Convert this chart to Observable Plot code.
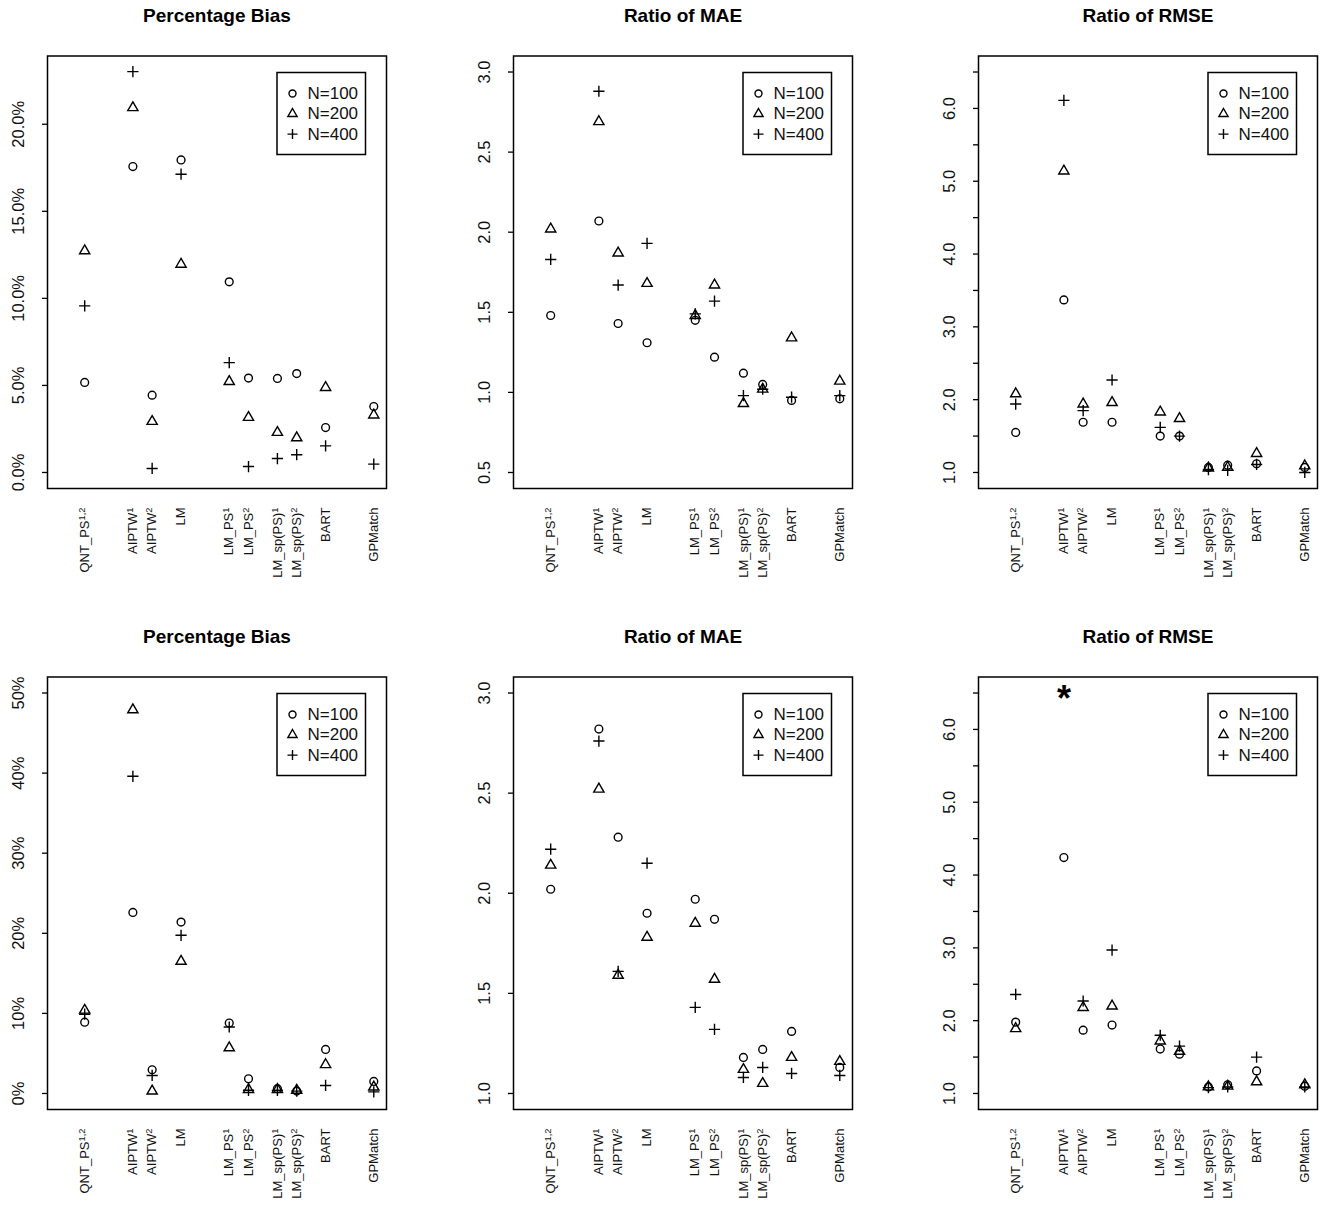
<!DOCTYPE html>
<html><head><meta charset="utf-8">
<script src="https://cdn.jsdelivr.net/npm/d3@7"></script>
<script src="https://cdn.jsdelivr.net/npm/@observablehq/plot@0.6"></script>
<style>
html,body{margin:0;padding:0;background:#fff;overflow:hidden;}
#root{position:relative;width:1325px;height:1210px;background:#fff;}
#root > div{position:absolute;}
</style></head><body><div id="root"></div>
<script>
// ---- categories ----
const methods   = ["QNT_PS","AIPTW","AIPTW","LM","LM_PS","LM_PS","LM_sp(PS)","LM_sp(PS)","BART","GPMatch"];
const methodSup = ["1,2","1","2","","1","2","1","2","",""];
const slots     = [1,3.5,4.5,6,8.5,9.5,11,12,13.5,16];   // grouping of methods along x

const seriesLabels  = ["N=100","N=200","N=400"];
const seriesSymbols = ["circle","triangle","plus"];

const titles = ["Percentage Bias","Ratio of MAE","Ratio of RMSE","Percentage Bias","Ratio of MAE","Ratio of RMSE"];

// ---- values (top row) ----
const bias1_n100 = [5.17,17.57,4.44,17.95,10.95,5.42,5.40,5.68,2.58,3.79];
const bias1_n200 = [12.73,20.95,2.93,11.96,5.22,3.16,2.30,1.99,4.88,3.30];
const bias1_n400 = [9.57,23.02,0.23,17.13,6.31,0.34,0.80,1.02,1.53,0.48];

const mae1_n100 = [1.48,2.07,1.43,1.31,1.45,1.22,1.12,1.05,0.95,0.96];
const mae1_n200 = [2.02,2.69,1.87,1.68,1.48,1.67,0.93,1.02,1.34,1.07];
const mae1_n400 = [1.83,2.88,1.67,1.93,1.49,1.57,0.98,1.02,0.97,0.98];

const rmse1_n100 = [1.55,3.37,1.69,1.69,1.50,1.50,1.07,1.10,1.12,1.07];
const rmse1_n200 = [2.08,5.14,1.94,1.96,1.83,1.74,1.06,1.07,1.26,1.09];
const rmse1_n400 = [1.94,6.11,1.85,2.27,1.62,1.50,1.04,1.03,1.11,1.00];

// ---- values (bottom row) ----
const bias2_n100 = [8.9,22.6,2.96,21.4,8.8,1.83,0.6,0.3,5.5,1.5];
const bias2_n200 = [10.4,47.9,0.3,16.5,5.7,0.5,0.5,0.4,3.6,0.8];
const bias2_n400 = [9.9,39.6,2.25,19.75,8.3,0.4,0.4,0.3,1.0,0.2];

const mae2_n100 = [2.02,2.82,2.28,1.90,1.97,1.87,1.18,1.22,1.31,1.13];
const mae2_n200 = [2.14,2.52,1.59,1.78,1.85,1.57,1.12,1.05,1.18,1.16];
const mae2_n400 = [2.22,2.76,1.61,2.15,1.43,1.32,1.08,1.13,1.10,1.09];

const rmse2_n100 = [1.98,4.24,1.87,1.94,1.61,1.54,1.09,1.12,1.31,1.10];
const rmse2_n200 = [1.89,null,2.18,2.20,1.72,1.58,1.09,1.10,1.16,1.12];
const rmse2_n400 = [2.36,null,2.27,2.97,1.80,1.65,1.08,1.09,1.50,1.09];
// off-scale marker (asterisk) in bottom-right panel
const rmse2_offscale = [{method: 1, value: 6.5}];

// ---- axis limits and ticks ----
const ylims = [[0,23],[0.5,3],[1,6.5],[0,50],[1,3],[1,6.5]];
const yTicks = [
  [0,5,10,15,20],
  [0.5,1,1.5,2,2.5,3],
  [1,1.5,2,2.5,3,3.5,4,4.5,5,5.5,6,6.5],
  [0,10,20,30,40,50],
  [1,1.5,2,2.5,3],
  [1,1.5,2,2.5,3,3.5,4,4.5,5,5.5,6,6.5]
];
const yTickLabels = [
  [0,5,10,15,20],
  [0.5,1,1.5,2,2.5,3],
  [1,2,3,4,5,6],
  [0,10,20,30,40,50],
  [1,1.5,2,2.5,3],
  [1,2,3,4,5,6]
];
const yFormats = [
  v => v.toFixed(1) + "%",
  v => v.toFixed(1),
  v => v.toFixed(1),
  v => v + "%",
  v => v.toFixed(1),
  v => v.toFixed(1)
];

const panelValues = [
  [bias1_n100,bias1_n200,bias1_n400],
  [mae1_n100,mae1_n200,mae1_n400],
  [rmse1_n100,rmse1_n200,rmse1_n400],
  [bias2_n100,bias2_n200,bias2_n400],
  [mae2_n100,mae2_n200,mae2_n400],
  [rmse2_n100,rmse2_n200,rmse2_n400]
];
const panelMarkers = [[],[],[],[],[],rmse2_offscale];

// ---- layout ----
const W = 394, H = 589, ML = 47, MR = 8, MT = 55.5, MB = 101;
const frameH = H - MT - MB;
const lefts = [0, 466, 931], tops = [0, 621];
const FONT = "'Liberation Sans', Arial, Helvetica, sans-serif";
const symR = {circle: 3.9, triangle: 3.8, plus: 3.7};

const root = document.getElementById("root");
const idx = d3.range(methods.length);

function addSup(svg) {
  const ns = "http://www.w3.org/2000/svg";
  svg.querySelectorAll("text").forEach(t => {
    const s = t.textContent;
    if (s.includes("^") && t.children.length === 0) {
      const [b, sup] = s.split("^");
      t.textContent = "";
      const t1 = document.createElementNS(ns, "tspan"); t1.textContent = b;
      const t2 = document.createElementNS(ns, "tspan"); t2.textContent = sup;
      t2.setAttribute("dy", "-0.42em");
      t2.style.fontSize = "72%";
      t.append(t1, t2);
    }
  });
}

for (let p = 0; p < 6; p++) {
  const lim = ylims[p];
  const pad = (lim[1] - lim[0]) * 0.04;
  const vals = panelValues[p];
  const marks = [
    Plot.frame({stroke: "black", strokeWidth: 1.5}),
    Plot.axisY(yTicks[p], {tickSize: 5, tickFormat: () => "", label: null, stroke: "black", strokeWidth: 1.3}),
    Plot.text(yTickLabels[p], {x: null, y: d => d, frameAnchor: "left", dx: -23.5, rotate: -90,
      textAnchor: "middle", lineAnchor: "bottom", text: yFormats[p], fontSize: 16.5, fill: "#111"}),
    Plot.text(idx, {x: i => slots[i], y: null, frameAnchor: "bottom", dy: 19, rotate: -90,
      textAnchor: "end", lineAnchor: "middle",
      text: i => methodSup[i] ? methods[i] + "^" + methodSup[i] : methods[i], fontSize: 13, fill: "#111"}),
    Plot.text([titles[p]], {x: null, y: null, frameAnchor: "top", dy: -34.5, lineAnchor: "bottom",
      text: d => d, fontSize: 19, fontWeight: "bold", fill: "black"}),
    ...vals.map((v, s) => Plot.dot(idx, {x: i => slots[i], y: i => v[i], symbol: seriesSymbols[s],
      r: symR[seriesSymbols[s]], stroke: "black", fill: "none", strokeWidth: 1.4})),
    Plot.text(panelMarkers[p], {x: d => slots[d.method], y: d => d.value, text: () => "*",
      fontSize: 36, fontWeight: "bold", lineAnchor: "middle", dy: 6, fill: "black"}),
    // legend
    Plot.frame({insetLeft: 229.5, insetRight: 21, insetTop: 16.5, insetBottom: frameH - 98.5,
      stroke: "black", strokeWidth: 1.5}),
    ...seriesLabels.map((lab, s) => Plot.dot([lab], {x: null, y: null, frameAnchor: "top-left",
      dx: 245, dy: 37.5 + s * 20.3, symbol: seriesSymbols[s], r: symR[seriesSymbols[s]] * 0.9,
      stroke: "black", fill: "none", strokeWidth: 1.4})),
    ...seriesLabels.map((lab, s) => Plot.text([lab], {x: null, y: null, frameAnchor: "top-left",
      dx: 260, dy: 37.5 + s * 20.3, text: d => d, textAnchor: "start", lineAnchor: "middle",
      fontSize: 17, fill: "#111"}))
  ];
  const svg = Plot.plot({
    width: W, height: H,
    marginLeft: ML, marginRight: MR, marginTop: MT, marginBottom: MB,
    x: {domain: [-0.93, 16.66], axis: null},
    y: {domain: [lim[0] - pad, lim[1] + pad]},
    style: {fontFamily: FONT, background: "white", overflow: "visible"},
    marks
  });
  addSup(svg);
  const wrap = document.createElement("div");
  wrap.style.left = lefts[p % 3] + "px";
  wrap.style.top = tops[Math.floor(p / 3)] + "px";
  wrap.appendChild(svg);
  root.appendChild(wrap);
}
</script>
</body></html>
